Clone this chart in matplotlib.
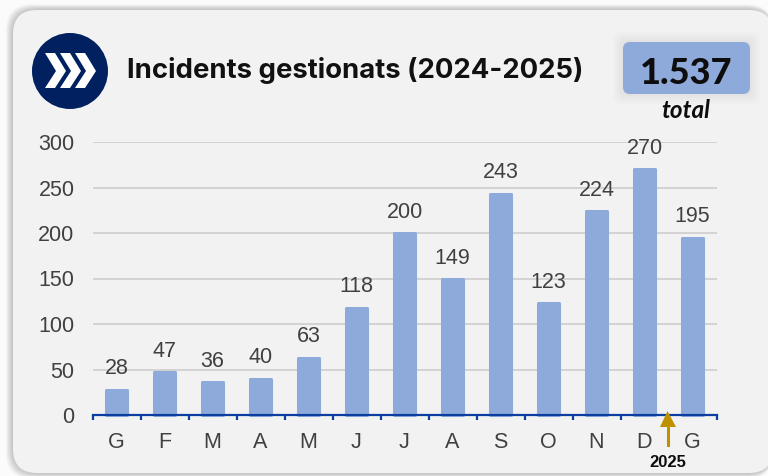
import matplotlib
matplotlib.use("Agg")
import matplotlib.pyplot as plt
from matplotlib.patches import Circle, FancyBboxPatch, Polygon

W, H = 768, 476
MESOS = ["G", "F", "M", "A", "M", "J", "J", "A", "S", "O", "N", "D", "G"]
INCIDENTS = [28, 47, 36, 40, 63, 118, 200, 149, 243, 123, 224, 270, 195]
YTICKS = [0, 50, 100, 150, 200, 250, 300]

BLAU = "#8eaadb"
NAVY = "#002060"
GRIS = "#404040"

fig = plt.figure(figsize=(W / 100, H / 100), dpi=100, facecolor="#fbfbfb")

# fons i decoracio en coordenades de pixel
bg = fig.add_axes([0, 0, 1, 1])
bg.set_xlim(0, W)
bg.set_ylim(H, 0)
bg.axis("off")

for i in range(7, 0, -1):
    bg.add_patch(FancyBboxPatch((13 - i, 10 - i * 0.8), 760 + i, 463 + i * 1.6,
                                boxstyle="round,pad=0,rounding_size=26",
                                fc="black", ec="none", alpha=0.03))
bg.add_patch(FancyBboxPatch((13, 10), 760, 463, boxstyle="round,pad=0,rounding_size=24",
                            fc="#f2f2f2", ec="none"))

bg.add_patch(Circle((70, 71), 38, fc=NAVY, ec="none"))
for dx in [0, 15, 30]:
    x0 = 45 + dx
    bg.add_patch(Polygon([(x0, 53), (x0 + 10, 53), (x0 + 21, 71), (x0 + 10, 88),
                          (x0, 88), (x0 + 11, 71)], fc="white", ec="none"))

bg.text(127, 71, "Incidents gestionats (2024-2025)", fontsize=19.8, fontweight="bold",
        family="Inter", color="#111111", va="center", ha="left")

for i in range(10, 0, -2):
    bg.add_patch(FancyBboxPatch((623 - i, 42 - i), 127 + 2 * i, 52 + 2 * i,
                                boxstyle="round,pad=0,rounding_size=8",
                                fc="black", ec="none", alpha=0.012))
bg.add_patch(FancyBboxPatch((623, 42), 127, 52, boxstyle="round,pad=0,rounding_size=7",
                            fc=BLAU, ec="none"))
bg.text(686, 74, "1.537", fontsize=26, fontweight="black", family="Lato",
        color="#0d0d0d", va="center", ha="center")
bg.text(686, 111, "total", fontsize=17.5, fontweight="bold", style="italic", family="Lato",
        color="#0d0d0d", va="center", ha="center")

# grafic
ax = fig.add_axes([92.5 / W, 1 - 415 / H, 624 / W, 273 / H])
ax.patch.set_alpha(0)
x = list(range(len(MESOS)))
ax.bar(x, INCIDENTS, width=0.42, color=BLAU, edgecolor=BLAU, linewidth=2.2,
       joinstyle="round", zorder=2, clip_on=False)
ax.set_xlim(-0.5, 12.5)
ax.set_ylim(0, 300)
ax.set_yticks(YTICKS)
ax.set_xticks(x)
ax.set_xticklabels(MESOS)
ax.grid(axis="y", color="#d0d0d0", linewidth=1.3, zorder=0)
ax.set_axisbelow(True)
for s in ["top", "right", "left"]:
    ax.spines[s].set_visible(False)
ax.spines["bottom"].set_color("#0a3fa0")
ax.spines["bottom"].set_linewidth(1.6)
ax.spines["bottom"].set_zorder(5)
ax.tick_params(axis="y", length=0, pad=13, labelsize=15.5, labelcolor=GRIS,
               labelfontfamily="Liberation Sans")
ax.tick_params(axis="x", length=0, pad=12, labelsize=15.5, labelcolor=GRIS,
               labelfontfamily="Liberation Sans")
# marques entre categories
for i in range(len(MESOS) + 1):
    ax.plot([i - 0.5, i - 0.5], [0, -6], color="#0a3fa0", linewidth=1.6, clip_on=False, zorder=5,
            solid_capstyle="butt")
for xi, v in zip(x, INCIDENTS):
    ax.annotate(str(v), (xi, v), xytext=(0, 7.5), textcoords="offset points", ha="center",
                va="bottom", fontsize=15.5, color=GRIS, family="Liberation Sans")

# fletxa del canvi d'any
ORO = "#bf9000"
bg.set_zorder(0)
ax.set_zorder(1)
ov = fig.add_axes([0, 0, 1, 1])
ov.set_xlim(0, W)
ov.set_ylim(H, 0)
ov.axis("off")
ov.set_zorder(2)
ov.plot([667.5, 667.5], [425, 445], color=ORO, linewidth=2.2)
ov.add_patch(Polygon([(667.5, 411), (660, 427), (676, 427)], fc=ORO, ec="none"))
ov.text(667.5, 462.5, "2025", fontsize=12, fontweight="bold", family="Liberation Sans",
        color="#0d0d0d", ha="center", va="center")

fig.savefig("out.png", dpi=100, facecolor=fig.get_facecolor())
